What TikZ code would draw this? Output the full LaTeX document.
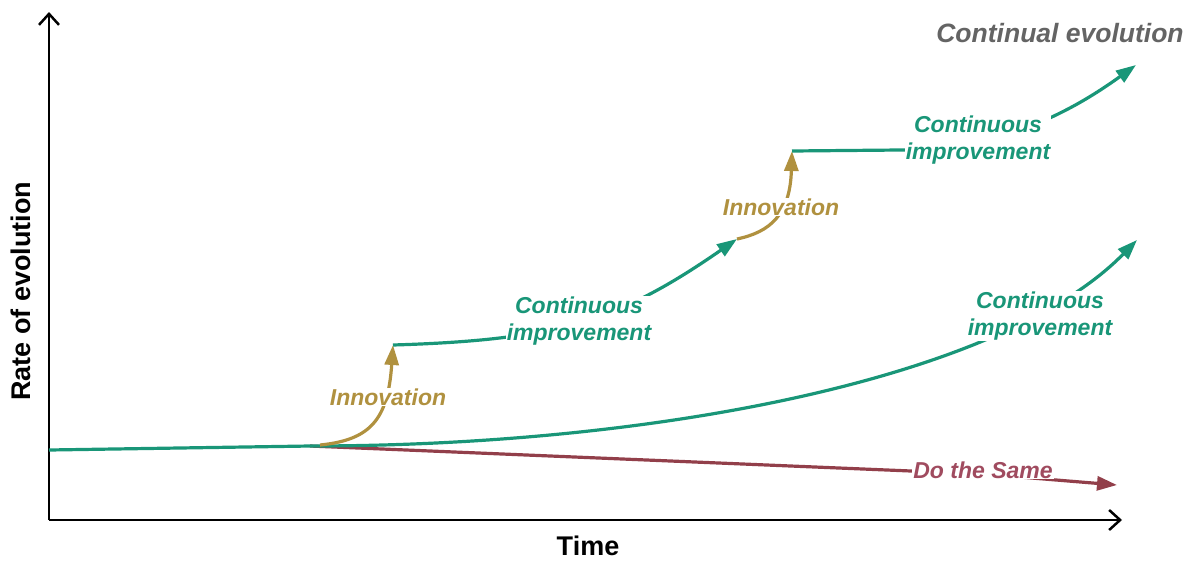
\documentclass[tikz,border=0pt]{standalone}
\usepackage{fontspec}
\setmainfont{Liberation Sans}
\usepackage{xcolor}
\usetikzlibrary{arrows.meta}

\definecolor{evogreen}{RGB}{25,150,120}
\definecolor{evogold}{RGB}{176,145,63}
\definecolor{evored}{RGB}{146,63,74}
\definecolor{evoredtext}{RGB}{160,75,95}
\definecolor{evogray}{RGB}{100,100,100}

\begin{document}
\begin{tikzpicture}[x=1pt,y=-1pt,
    axis/.style={line width=2.5pt,-{Straight Barb[length=11pt,width=20pt]}},
    axislbl/.style={font=\fontsize{27}{32}\selectfont\bfseries,inner sep=0pt},
    trend/.style={line width=3.2pt,-{Triangle[length=20pt,width=14pt]}},
    lbl/.style={font=\fontsize{23}{27}\selectfont\bfseries\itshape,align=center,fill=white,inner sep=1pt}]
\useasboundingbox (0,0) rectangle (1195,563);

% axes
\coordinate (origin) at (49,520);
\coordinate (ytop) at (49,12);
\coordinate (xend) at (1122,520);
\draw [axis] (origin) -- (ytop);
\draw [axis] (origin) -- (xend);
\node [axislbl, rotate=90] (ylabel) at (21,291) {Rate of evolution};
\node [axislbl] (xlabel) at (588,546) {Time};

% curve points
\coordinate (start) at (49,450);
\coordinate (split) at (310,446);
\coordinate (bend) at (983,474);
\coordinate (same) at (1117,485);
\coordinate (slow) at (1137,240);
\coordinate (jump1) at (320,445);
\coordinate (step1) at (393,345);
\coordinate (top1) at (737,239);
\coordinate (step2) at (792,151);
\coordinate (flat2) at (900,150);
\coordinate (top2) at (1136,65);

% do the same
\draw [trend, evored] (split) -- (bend) -- (same);
% continuous improvement only
\draw [trend, evogreen] (start) -- (split) .. controls (650,446) and (1000,380) .. (slow);
% first innovation and improvement
\draw [trend, evogold] (jump1) .. controls (370,440) and (388,420) .. (step1);
\draw [trend, evogreen] (step1) .. controls (560,340) and (620,320) .. (top1);
% second innovation and improvement
\draw [trend, evogold] (top1) .. controls (770,232) and (790,215) .. (step2);
\draw [trend, evogreen] (step2) -- (flat2) .. controls (990,150) and (1060,120) .. (top2);

% labels
\node [lbl, text=evoredtext] (dosame) at (983,470) {Do the Same};
\node [lbl, text=evogold] (innov1) at (388,397) {Innovation};
\node [lbl, text=evogold] (innov2) at (781,207) {Innovation};
\node [lbl, text=evogreen] (cont1) at (579,321) {Continuous\\improvement};
\node [lbl, text=evogreen] (cont2) at (978,140) {Continuous\\improvement};
\node [lbl, text=evogreen] (cont3) at (1040,316) {Continuous\\improvement};
\node [lbl, text=evogray, font=\fontsize{26.5}{30}\selectfont\bfseries\itshape] (contevo) at (1060,33) {Continual evolution};

\end{tikzpicture}
\end{document}
